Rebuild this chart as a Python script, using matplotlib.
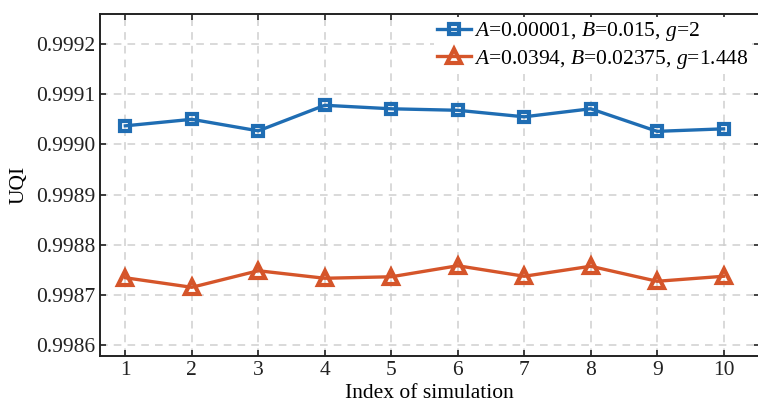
import matplotlib
matplotlib.use("Agg")
import matplotlib.pyplot as plt
from matplotlib.ticker import FormatStrFormatter

# data
sims = [1, 2, 3, 4, 5, 6, 7, 8, 9, 10]
uqi_1 = [0.999037, 0.999050, 0.999027, 0.999078, 0.999071,
         0.999068, 0.999055, 0.999071, 0.999026, 0.999031]
uqi_2 = [0.998734, 0.998715, 0.998748, 0.998733, 0.998736,
         0.998758, 0.998737, 0.998757, 0.998727, 0.998737]
label_1 = r"$\mathit{A}$=0.00001, $\mathit{B}$=0.015, $\mathit{g}$=2"
label_2 = r"$\mathit{A}$=0.0394, $\mathit{B}$=0.02375, $\mathit{g}$=1.448"
y_ticks = [0.9986, 0.9987, 0.9988, 0.9989, 0.9990, 0.9991, 0.9992]

plt.rcParams['font.family'] = ['Liberation Serif', 'DejaVu Serif']
plt.rcParams['mathtext.fontset'] = 'custom'
plt.rcParams['mathtext.rm'] = 'Liberation Serif'
plt.rcParams['mathtext.it'] = 'Liberation Serif:italic'
plt.rcParams['font.size'] = 15.5

fig = plt.figure(figsize=(7.58, 4.05), dpi=100)
ax = fig.add_axes([0.132, 0.121, 0.87, 0.8444])

blue = "#1f6db3"
orange = "#d5552a"

ax.plot(sims, uqi_1, color=blue, lw=2.4, marker="s", ms=6.5,
        mfc="none", mew=3, label=label_1, zorder=3)
ax.plot(sims, uqi_2, color=orange, lw=2.4, marker="^", ms=9.5,
        mfc="none", mew=3, label=label_2, zorder=3)

ax.set_xlim(0.62, 10.54)
ax.set_ylim(0.998578, 0.99926)
ax.set_xticks(sims)
ax.set_yticks(y_ticks)
ax.yaxis.set_major_formatter(FormatStrFormatter('%.4f'))

ax.grid(True, color="#cfcfcf", ls=(0, (5, 4)), lw=1.1)
ax.tick_params(direction="in", top=True, right=True, length=4.5,
               width=1.2, colors="#222222", labelsize=15.5)
for s in ax.spines.values():
    s.set_linewidth(1.4)
    s.set_color("#222222")

ax.set_xlabel("Index of simulation", fontsize=15.5, labelpad=3)
ax.set_ylabel("UQI", fontsize=15.5, labelpad=5)

leg = ax.legend(loc="upper right", frameon=True, fancybox=False,
                edgecolor="none", facecolor="white", framealpha=1,
                handlelength=1.6, handletextpad=0.15, borderaxespad=0.15,
                borderpad=0.15, labelspacing=0.2, fontsize=15.5,
                bbox_to_anchor=(0.994, 1.0))

fig.savefig("out.png", dpi=100)
